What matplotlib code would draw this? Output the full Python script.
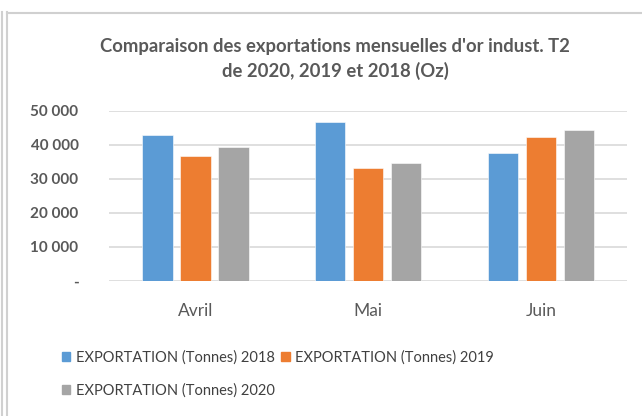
import numpy as np
import matplotlib
matplotlib.use("Agg")
import matplotlib.pyplot as plt
from matplotlib.patches import Patch
from matplotlib.lines import Line2D

# données
mois = ["Avril", "Mai", "Juin"]
exp_2018 = [42850, 46580, 37470]
exp_2019 = [36590, 33240, 42170]
exp_2020 = [39320, 34610, 44230]
series = ["EXPORTATION (Tonnes) 2018", "EXPORTATION (Tonnes) 2019", "EXPORTATION (Tonnes) 2020"]
couleurs = ["#5B9BD5", "#ED7D31", "#A5A5A5"]

gris = "#595959"
plt.rcParams['font.family'] = ['Lato', 'DejaVu Sans']

fig = plt.figure(figsize=(6.42, 4.16), dpi=100)
ax = fig.add_axes([0.17, 0.325, 0.807, 0.409])

x = np.arange(len(mois))
w = 0.174
pas = 0.22
for i, vals in enumerate([exp_2018, exp_2019, exp_2020]):
    ax.bar(x + (i - 1) * pas, vals, width=w, color=couleurs[i], zorder=3,
           edgecolor="white", linewidth=0.4)

ax.set_xlim(-0.5, 2.5)
ax.set_ylim(0, 50000)
ax.set_yticks(range(0, 50001, 10000))
ax.set_yticklabels(["-" if v == 0 else f"{v:,}".replace(",", " ") for v in range(0, 50001, 10000)],
                   fontsize=11, fontweight="bold", color=gris)
ax.set_xticks(x)
ax.set_xticklabels(mois, fontsize=12.5, color=gris)
ax.tick_params(length=0)
ax.tick_params(axis="y", pad=22)
ax.tick_params(axis="x", pad=16)
ax.grid(axis="y", color="#D9D9D9", linewidth=1.2, zorder=0)
for s in ax.spines.values():
    s.set_visible(False)

fig.text(0.522, 0.859, "Comparaison des exportations mensuelles d'or indust. T2\nde 2020, 2019 et 2018 (Oz)",
         ha="center", va="center", fontsize=13.3, fontweight="bold", color=gris, linespacing=1.45)

# légende : ordre modifié pour obtenir 2018, 2019 sur la première ligne
h = [Patch(color=c) for c in couleurs]
leg = fig.legend([h[0], h[2], h[1]], [series[0], series[2], series[1]], ncol=2,
                 loc="upper left", bbox_to_anchor=(0.087, 0.172), frameon=False,
                 fontsize=10.5, handlelength=0.6, handleheight=0.6, handletextpad=0.35,
                 columnspacing=0.45, labelspacing=1.3, borderaxespad=0)
for t in leg.get_texts():
    t.set_color("#404040")

# cadre de la zone du graphique
fig.add_artist(Line2D([0.011, 0.011], [0, 0.97], color="#D0D0D0", lw=1.5))
fig.add_artist(Line2D([0.0025, 0.0025], [0, 0.97], color="#D0D0D0", lw=1.5))
fig.add_artist(Line2D([0.011, 1], [0.968, 0.968], color="#D0D0D0", lw=1.5))

fig.savefig("out.png", dpi=100)
